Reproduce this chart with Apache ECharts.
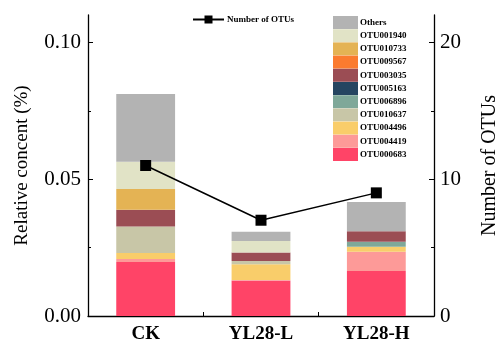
<!DOCTYPE html>
<html>
<head>
<meta charset="utf-8">
<script src="https://cdn.jsdelivr.net/npm/echarts@6/dist/echarts.min.js"></script>
<style>
  html, body { margin: 0; padding: 0; background: #fff; }
  #chart { width: 499px; height: 344px; }
</style>
</head>
<body>
<div id="chart"></div>
<script>
// Treatments on the x axis
const categories = ['CK', 'YL28-L', 'YL28-H'];

// Relative content of each OTU per treatment (stacked from the bottom up)
const OTU000683 = [0.0197, 0.0129, 0.0164];
const OTU004419 = [0.0011, 0.0003, 0.0071];
const OTU004496 = [0.0022, 0.0057, 0.0018];
const OTU010637 = [0.0097, 0.0012, 0.0000];
const OTU006896 = [0.0000, 0.0000, 0.0018];
const OTU005163 = [0.0000, 0.0000, 0.0000];
const OTU003035 = [0.0061, 0.0031, 0.0039];
const OTU009567 = [0.0000, 0.0000, 0.0000];
const OTU010733 = [0.0076, 0.0000, 0.0000];
const OTU001940 = [0.0100, 0.0042, 0.0000];
const Others    = [0.0247, 0.0034, 0.0107];

// Number of OTUs per treatment (right axis)
const otuCount = [11, 7, 9];

// Axis ticks
const leftMajorTicks = [0, 0.05, 0.10];
const leftMinorTicks = [0.025, 0.075];
const rightMajorTicks = [0, 10, 20];
const rightMinorTicks = [5, 15];

const stackSeries = [
  { name: 'OTU000683', data: OTU000683, color: '#FF4467' },
  { name: 'OTU004419', data: OTU004419, color: '#FD9A98' },
  { name: 'OTU004496', data: OTU004496, color: '#F9CD6A' },
  { name: 'OTU010637', data: OTU010637, color: '#C8C6A7' },
  { name: 'OTU006896', data: OTU006896, color: '#7FA899' },
  { name: 'OTU005163', data: OTU005163, color: '#254561' },
  { name: 'OTU003035', data: OTU003035, color: '#9B4D54' },
  { name: 'OTU009567', data: OTU009567, color: '#FB7B2F' },
  { name: 'OTU010733', data: OTU010733, color: '#E4B354' },
  { name: 'OTU001940', data: OTU001940, color: '#E1E3C6' },
  { name: 'Others',    data: Others,    color: '#B3B3B3' }
];

const serif = '"Times New Roman", "Liberation Serif", serif';
const axisLine = { show: true, lineStyle: { color: '#000', width: 1.3 } };

const chart = echarts.init(document.getElementById('chart'), null, { renderer: 'canvas' });

const series = stackSeries.map(s => ({
  name: s.name,
  type: 'bar',
  stack: 'otu',
  yAxisIndex: 0,
  barWidth: '51%',
  data: s.data,
  itemStyle: { color: s.color },
  emphasis: { disabled: true }
}));

series.push({
  name: 'Number of OTUs',
  type: 'line',
  yAxisIndex: 1,
  data: otuCount,
  symbol: 'rect',
  symbolSize: 11,
  itemStyle: { color: '#000' },
  lineStyle: { color: '#000', width: 1.5 },
  z: 10
});

chart.setOption({
  animation: false,
  backgroundColor: '#fff',
  grid: { left: 88, right: 65, top: 15, bottom: 28, containLabel: false, outerBoundsMode: 'none' },
  legend: [
    {
      data: ['Number of OTUs'],
      left: 187, top: 10,
      itemWidth: 31, itemHeight: 10,
      itemGap: 0,
      textStyle: { fontFamily: serif, fontWeight: 'bold', fontSize: 9, color: '#000', padding: [0, 0, 0, -2] }
    },
    {
      data: stackSeries.map(s => s.name).reverse(),
      orient: 'vertical',
      left: 328, top: 11,
      itemWidth: 25, itemHeight: 13,
      itemGap: 0.2,
      icon: 'rect',
      textStyle: { fontFamily: serif, fontWeight: 'bold', fontSize: 9, color: '#000', padding: [0, 0, 0, -3] }
    }
  ],
  xAxis: {
    type: 'category',
    data: categories,
    boundaryGap: true,
    axisLine: axisLine,
    axisTick: { show: true, inside: true, length: 4, lineStyle: { color: '#000' } },
    axisLabel: { fontFamily: serif, fontWeight: 'bold', fontSize: 19, color: '#000', margin: 9 },
    splitLine: { show: false }
  },
  yAxis: [
    {
      type: 'value', position: 'left',
      min: 0, max: 0.11, interval: 0.05,
      name: 'Relative concent (%)',
      nameLocation: 'middle', nameRotate: 90, nameGap: 56,
      nameTextStyle: { fontFamily: serif, fontSize: 19, color: '#000' },
      axisLine: axisLine,
      axisTick: { show: true, inside: true, length: 5, customValues: leftMajorTicks, lineStyle: { color: '#000' } },
      axisLabel: { fontFamily: serif, fontSize: 21, color: '#000', margin: 7, customValues: leftMajorTicks,
                   formatter: v => v.toFixed(2) },
      splitLine: { show: false }
    },
    {
      type: 'value', position: 'right',
      min: 0, max: 22, interval: 10,
      name: 'Number of OTUs',
      nameLocation: 'middle', nameRotate: 90, nameGap: 46,
      nameTextStyle: { fontFamily: serif, fontSize: 20, color: '#000' },
      axisLine: axisLine,
      axisTick: { show: true, inside: true, length: 5, customValues: rightMajorTicks, lineStyle: { color: '#000' } },
      axisLabel: { fontFamily: serif, fontSize: 21, color: '#000', margin: 6, customValues: rightMajorTicks },
      splitLine: { show: false }
    },
    {
      type: 'value', position: 'left',
      min: 0, max: 0.11,
      axisLine: { show: false },
      axisTick: { show: true, inside: true, length: 3, customValues: leftMinorTicks, lineStyle: { color: '#000' } },
      axisLabel: { show: false },
      splitLine: { show: false }
    },
    {
      type: 'value', position: 'right',
      min: 0, max: 22,
      axisLine: { show: false },
      axisTick: { show: true, inside: true, length: 3, customValues: rightMinorTicks, lineStyle: { color: '#000' } },
      axisLabel: { show: false },
      splitLine: { show: false }
    }
  ],
  series: series
});
</script>
</body>
</html>
